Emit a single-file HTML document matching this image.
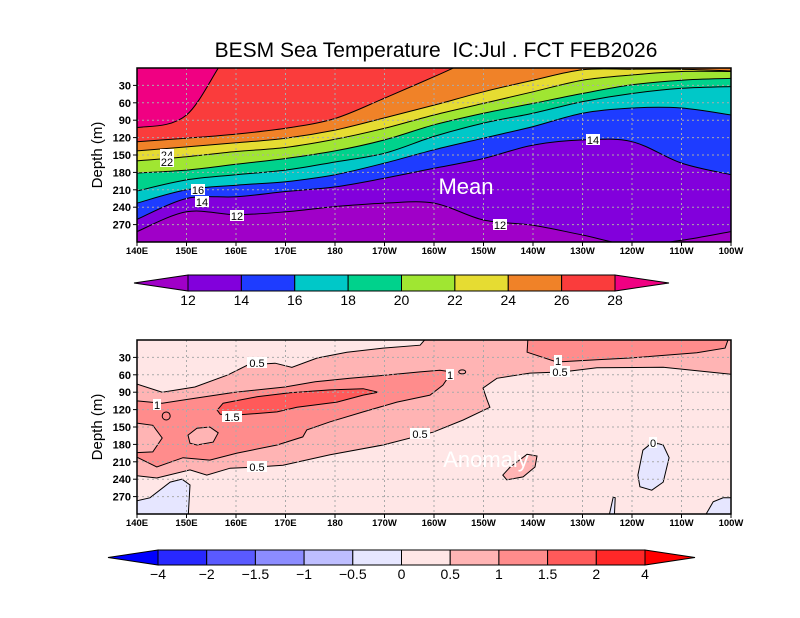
<!DOCTYPE html>
<html><head><meta charset="utf-8"><style>
body{margin:0;background:#fff;}
svg{display:block;font-family:"Liberation Sans",sans-serif;}
</style></head><body>
<svg id="chart" width="800" height="618" viewBox="0 0 800 618" xmlns="http://www.w3.org/2000/svg">
<rect width="800" height="618" fill="#fff"/>
<text x="436" y="57" font-size="21" text-anchor="middle" style="white-space:pre">BESM Sea Temperature  IC:Jul . FCT FEB2026</text>
<g id="topPanel"></g>
<g id="botPanel"></g>
<g id="cb1"></g>
<g id="cb2"></g>
</svg>
<script>
const lonCats=[140,150,160,170,180,190,200,210,220,230,240,250,260];
const lonLabels=["140E","150E","160E","170E","180","170W","160W","150W","140W","130W","120W","110W","100W"];
const depthTicks=[30,60,90,120,150,180,210,240,270];
const meanLevels=[12,14,16,18,20,22,24,26,28];
const iso12=[282,248,253,248,239,233,233,262,271,288,305,297,282];
const iso14=[261,225,222,213,205,190,173,156,133,124,127,164,184];
const iso16=[233,210,202,196,184,164,141,121,101,78,69,69,81];
const iso18=[212,193,184,176,162,147,118,95,78,58,44,35,32];
const iso20=[181,176,166,156,143,124,98,78,61,44,29,21,18];
const iso22=[160,153,144,137,123,104,81,61,41,21,12,6,6];
const iso24=[143,136,129,121,107,86,64,41,21,3,2,2,5];
const iso26=[127,121,114,104,87,52,15,-22,-48,-66,-74,-83,-83];
const iso28=[103,81,-40,-60,-60,-60,-60,-60,-60,-60,-60,-60,-60];
const meanColors=["#a000c8","#8200dc","#1e3cff","#00c8c8","#00d28c","#a0e632","#e6dc32","#f08228","#fa3c3c","#f00082"];
const anomLabels=["\u22124","\u22122","\u22121.5","\u22121","\u22120.5","0","0.5","1","1.5","2","4"];
const anomColors=["#0000ff","#2828ff","#5a5aff","#8c8cff","#bebeff","#e6e6ff","#ffe6e6","#ffb4b4","#ff8c8c","#ff5a5a","#ff2828","#ff0000"];
const anom05Lon=[140,145.1,151.7,158.4,162.4,167.9,171.3,176.4,182.4,189.7,197.2,198.6,260,260,246.3,232.9,226.1,219.4,212.7,209.9,210.7,211.3,205.9,199.8,189.7,179,169.5,164.2,158.8,154.1,150.7,144,140];
const anom05Dep=[76,90,81,60,43,40,47,31,21,14,9,-5,-5,59,47,48,55,57,66,83,103,116,138,159,181,198,216,219,221,233,224,238,234];
const anom05IslLon=[213.9,215.4,218.8,220.8,220.4,218,214.7];
const anom05IslDep=[233,219,197,200,219,236,241];
const anom10Lon=[140,145.1,149.7,159.8,169.9,176,183,191.1,197.2,201.2,203.6,201.8,199.2,192.5,185.7,179,174.3,173.5,168.3,160.2,154.7,149.3,144,140];
const anom10Dep=[105,109,103,90,81,72,66,60,55,52,55,78,95,107,124,141,155,167,181,195,207,203,219,202];
const hole1Lon=[138,143.2,145.1,143.2,138];
const hole1Dep=[141,147,169,193,195];
const hole2Lon=[150.3,152.1,154.7,156.4,155.4,152.1,150.7];
const hole2Dep=[164,152,150,160,176,181,178];
const anom10EastLon=[219,218.8,224.8,232.9,239.6,253.1,258.8,259.6];
const anom10EastDep=[-5,21,38,34,31,22,14,-5];
const anom15Lon=[156.2,157.4,164.2,170.9,179,185.7,188.7,185.7,180.4,172.3,168.3,160.8,156.8];
const anom15Dep=[121,109,98,91,86,84,90,95,107,116,124,129,128];
const negALon=[138,142.6,146.7,149.1,150.7,150.3,138];
const negADep=[281,272,245,240,250,310,310];
const negBLon=[241.2,242.2,244.2,246.3,247.5,246.3,244,241.6];
const negBDep=[233,190,176,181,203,245,259,253];
const negCLon=[235.2,236.2,236.6,236.4];
const negCDep=[310,271,272,310];
const negDLon=[254.3,256.4,258.4,262,262];
const negDDep=[310,279,272,272,310];

const NS="http://www.w3.org/2000/svg";
function mk(tag,attrs,parent){const e=document.createElementNS(NS,tag);for(const k in attrs)e.setAttribute(k,attrs[k]);parent.appendChild(e);return e;}
const X0=137,X1=731;
function xs(lon){return X0+(lon-140)/120*(X1-X0);}
function ysF(y0){return d=>y0+d*174/300;}
function smoothPath(pts){
  let d='M'+pts[0][0].toFixed(1)+','+pts[0][1].toFixed(1);
  for(let i=0;i<pts.length-1;i++){
    const p0=pts[Math.max(0,i-1)],p1=pts[i],p2=pts[i+1],p3=pts[Math.min(pts.length-1,i+2)];
    const lo=Math.min(p1[1],p2[1]),hi=Math.max(p1[1],p2[1]);
    const c1y=Math.min(hi+3,Math.max(lo-3,p1[1]+(p2[1]-p0[1])/6));
    const c2y=Math.min(hi+3,Math.max(lo-3,p2[1]-(p3[1]-p1[1])/6));
    d+='C'+(p1[0]+(p2[0]-p0[0])/6).toFixed(1)+','+c1y.toFixed(1)+' '+(p2[0]-(p3[0]-p1[0])/6).toFixed(1)+','+c2y.toFixed(1)+' '+p2[0].toFixed(1)+','+p2[1].toFixed(1);
  }
  return d;
}

function panel(g,y0,id){
  const ys=ysF(y0);
  const clip=mk('clipPath',{id:'clip'+id},g);
  mk('rect',{x:X0,y:y0,width:X1-X0,height:174},clip);
  const c=mk('g',{'clip-path':'url(#clip'+id+')'},g);
  
  
  return {ys,c};
}
function axes(g,y0,ys,id){
  const grid=mk('g',{stroke:'#aaa','stroke-width':1,'stroke-dasharray':'2,3'},g);
  
  
  lonCats.forEach((l,i)=>{if(i>0&&i<lonCats.length-1){mk('line',{x1:xs(l),x2:xs(l),y1:y0,y2:y0+174},grid);}});
  depthTicks.forEach(d=>{mk('line',{x1:X0,x2:X1,y1:ys(d),y2:ys(d)},grid);});
  const fr=mk('rect',{x:X0,y:y0,width:X1-X0,height:174,fill:'none',stroke:'#000','stroke-width':1.5},g);
  
  
  depthTicks.forEach(d=>{
    mk('line',{x1:X0-4,x2:X0,y1:ys(d),y2:ys(d),stroke:'#000'},g);
    const t=mk('text',{x:X0-6,y:ys(d)+4,'font-size':11,'text-anchor':'end','font-weight':'bold'},g);
    t.textContent=d;
    
    
  });
  lonCats.forEach((l,i)=>{
    mk('line',{x1:xs(l),x2:xs(l),y1:y0+174,y2:y0+178,stroke:'#000'},g);
    const t=mk('text',{x:xs(l),y:y0+186,'font-size':9.5,'text-anchor':'middle','font-weight':'bold'},g);
    t.textContent=lonLabels[i];
    
    
  });
  const yt=mk('text',{x:0,y:0,'font-size':15,'text-anchor':'middle',transform:`translate(102,${y0+87}) rotate(-90)`},g);
  yt.textContent='Depth (m)';
  
  
}
function label(g,x,y,txt,name){
  const w=txt.length*6+2;
  const r=mk('rect',{x:x-w/2,y:y-6,width:w,height:11,fill:'#fff'},g);
  
  
  const t=mk('text',{x:x,y:y+4,'font-size':11,'text-anchor':'middle'},g);
  t.textContent=txt;
  
  
}

// ---- top panel
const topG=document.getElementById('topPanel');
const T=panel(topG,68,'mean');
mk('rect',{x:X0,y:68,width:X1-X0,height:174,fill:meanColors[0]},T.c);
const isoList=[iso12,iso14,iso16,iso18,iso20,iso22,iso24,iso26,iso28];
isoList.forEach((arr,k)=>{
  const pts=arr.map((d,i)=>[xs(lonCats[i]),T.ys(d)]);
  const area=mk('path',{d:smoothPath(pts)+`L${X1+5},0L${X0-5},0Z`,fill:meanColors[k+1]},T.c);
  
  
});
isoList.forEach((arr,k)=>{
  const pts=arr.map((d,i)=>[xs(lonCats[i]),T.ys(d)]);
  const l=mk('path',{d:smoothPath(pts),fill:'none',stroke:'#000','stroke-width':1},T.c);
  
  
});
axes(topG,68,T.ys,'mean');
label(topG,167,155,'24','contour-label');label(topG,167,162,'22','contour-label');
label(topG,198,190,'16','contour-label');label(topG,202,202,'14','contour-label');
label(topG,237,216,'12','contour-label');label(topG,500,225,'12','contour-label');
label(topG,593,140,'14','contour-label');
const mt=mk('text',{x:466,y:194,'font-size':22,fill:'#fff','text-anchor':'middle'},topG);
mt.textContent='Mean';



// ---- bottom panel
const botG=document.getElementById('botPanel');
const B=panel(botG,340,'anom');
mk('rect',{x:X0,y:340,width:X1-X0,height:174,fill:anomColors[6]},B.c);
function poly(lons,deps,fill,name){
  const d='M'+lons.map((l,i)=>xs(l).toFixed(1)+','+B.ys(deps[i]).toFixed(1)).join('L')+'Z';
  const p=mk('path',{d:d,fill:fill,stroke:'#000','stroke-width':1},B.c);
  
  
}
poly(anom05Lon,anom05Dep,anomColors[7],'anomaly-contour-0.5');
poly(anom10Lon,anom10Dep,anomColors[8],'anomaly-contour-1');
poly(hole1Lon,hole1Dep,anomColors[7],'anomaly-hole-west');
poly(hole2Lon,hole2Dep,anomColors[7],'anomaly-hole-center');
poly(anom10EastLon,anom10EastDep,anomColors[8],'anomaly-contour-1-east');
poly(anom15Lon,anom15Dep,anomColors[9],'anomaly-contour-1.5');
poly(anom05IslLon,anom05IslDep,anomColors[7],'anomaly-island-0.5');
poly(negALon,negADep,anomColors[5],'negative-anomaly-west');
poly(negBLon,negBDep,anomColors[5],'negative-anomaly-east');
poly(negCLon,negCDep,anomColors[5],'negative-anomaly-spike');
poly(negDLon,negDDep,anomColors[5],'negative-anomaly-corner');
const c1=mk('ellipse',{cx:xs(145.9),cy:B.ys(131),rx:4,ry:4,fill:'none',stroke:'#000'},B.c);


const c2=mk('ellipse',{cx:xs(205.7),cy:B.ys(55),rx:3.5,ry:2,fill:'none',stroke:'#000'},B.c);


axes(botG,340,B.ys,'anom');
label(botG,257,363,'0.5','contour-label');label(botG,157,405,'1','contour-label');
label(botG,232,417,'1.5','contour-label');label(botG,257,467,'0.5','contour-label');
label(botG,420,434,'0.5','contour-label');label(botG,450,375,'1','contour-label');
label(botG,558,361,'1','contour-label');label(botG,560,372,'0.5','contour-label');
label(botG,653,443,'0','contour-label');
const at=mk('text',{x:486,y:467,'font-size':22,fill:'#fff','text-anchor':'middle'},botG);
at.textContent='Anomaly';



// ---- colorbars
function colorbar(g,x0,x1,tipL,tipR,y0,h,colors,labels,name){
  const n=colors.length-2, w=(x1-x0)/n;
  const l=mk('path',{d:`M${x0},${y0}L${tipL},${y0+h/2}L${x0},${y0+h}Z`,fill:colors[0],stroke:'#000'},g);
  
  
  const r=mk('path',{d:`M${x1},${y0}L${tipR},${y0+h/2}L${x1},${y0+h}Z`,fill:colors[colors.length-1],stroke:'#000'},g);
  
  
  for(let i=0;i<n;i++){
    const b=mk('rect',{x:x0+i*w,y:y0,width:w,height:h,fill:colors[i+1],stroke:'#000'},g);
    
    
  }
  labels.forEach((t,i)=>{
    const e=mk('text',{x:x0+i*w,y:y0+h+14,'font-size':14,'text-anchor':'middle'},g);
    e.textContent=t;
    
    
  });
}
colorbar(document.getElementById('cb1'),188,615,134,669,275,16,meanColors,meanLevels.map(String),'mean-colorbar');
colorbar(document.getElementById('cb2'),158,645,108,695,550,15,anomColors,anomLabels,'anomaly-colorbar');
</script>
</body></html>
